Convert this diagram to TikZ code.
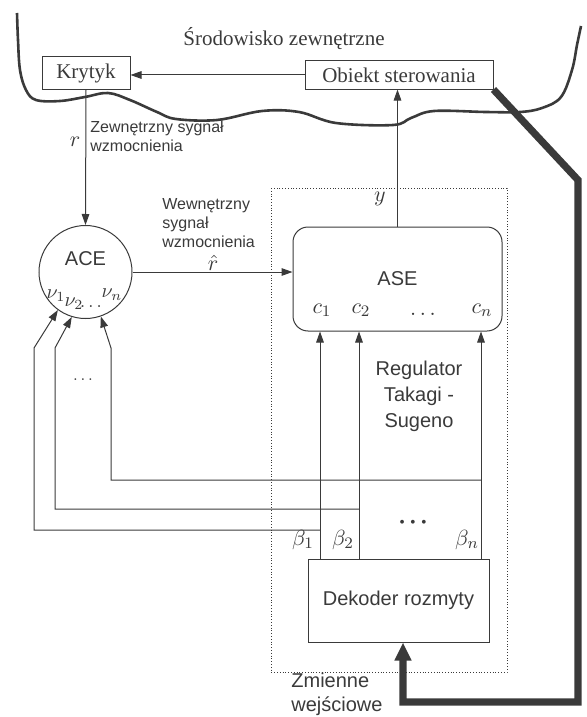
\documentclass[tikz,border=0pt]{standalone}
\usepackage{fontspec}
\setmainfont{Liberation Serif}
\setsansfont{Liberation Sans}
\usetikzlibrary{arrows.meta}
\definecolor{ink}{HTML}{3A3A3A}
\tikzset{
  blok/.style={draw=ink, line width=0.5pt, text=ink, font=\sffamily\fontsize{10}{12}\selectfont},
  arr/.style={draw=ink, line width=0.5pt, -{Triangle[length=5.5pt,width=3.8pt]}},
  fb/.style={draw=ink, line width=3.6pt, -{Triangle[length=9pt,width=8pt]}},
  lab/.style={text=ink, inner sep=0pt, align=left, font=\sffamily\fontsize{8}{9.5}\selectfont},
  sym/.style={text=ink, inner sep=0pt, font=\fontsize{11}{13}\selectfont},
}
\begin{document}
\begin{tikzpicture}[x=0.5pt,y=-0.5pt]
\useasboundingbox (0,0) rectangle (586,717);
% srodowisko
\draw[ink, line width=1.3pt] plot[smooth, tension=0.6] coordinates {(17,13) (18,40) (20,70) (26,90) (36,100) (60,101) (85,97) (108,93) (130,100) (157,112) (176,119) (217,120) (262,111) (299,112) (336,123) (393,125) (411,118) (434,111) (486,112) (520,112) (542,108) (561,97) (572,70) (577,45) (581,26)};
\node[text=ink, font=\fontsize{10.5}{12}\selectfont] (env) at (284,39) {Środowisko zewnętrzne};
\node[blok, font=\fontsize{10.5}{12}\selectfont, minimum width=44pt, minimum height=14pt] (krytyk) at (86,73) {Krytyk};
\node[blok, font=\fontsize{10.5}{12}\selectfont, minimum width=94pt, minimum height=13.5pt] (obiekt) at (399,75) {Obiekt sterowania};
% bloki
\node[draw=ink, line width=0.5pt, circle, minimum size=46.5pt, inner sep=0pt] (ace) at (85.5,272) {};
\node[blok, rounded corners=7.5pt, minimum width=104.5pt, minimum height=52pt] (ase) at (397.5,279) {ASE};
\node[blok, minimum width=90.5pt, minimum height=41.5pt] (dek) at (398.5,600.5) {Dekoder rozmyty};
\draw[ink, densely dotted, line width=0.4pt] (271,188) rectangle (507,672);
% polaczenia
\draw[arr] (obiekt.west) -- (krytyk.east |- obiekt.west);
\draw[arr] (krytyk.south) -- (ace.north);
\draw[arr] (ace.east) -- (ace.east -| ase.west);
\draw[arr] (ase.north) -- (ase.north |- obiekt.south);
\coordinate (b1) at (320,0);
\coordinate (b2) at (359,0);
\coordinate (bn) at (481,0);
\foreach \b in {b1,b2,bn}
  \draw[arr] (\b |- dek.north) -- (\b |- ase.south);
\coordinate (j1) at (320,530);
\coordinate (k1) at (34,348);
\coordinate (j2) at (359,509);
\coordinate (k2) at (55,348);
\coordinate (j3) at (481,480);
\coordinate (k3) at (111,348);
\draw[arr] (j1) -| (k1) -- (ace.-126);
\draw[arr] (j2) -| (k2) -- (ace.-107);
\draw[arr] (j3) -| (k3) -- (ace.-71);
\coordinate (t1) at (578,180);
\coordinate (t2) at (403,702);
\draw[fb] (obiekt.south east) -- (t1) |- (t2) -- (t2 |- dek.south);
% opisy
\node[lab, anchor=west] (zew) at (90,136) {Zewnętrzny sygnał\\wzmocnienia};
\node[sym] (rsym) at (75,142) {$r$};
\node[lab, anchor=west] (wew) at (162,223) {Wewnętrzny\\sygnał\\wzmocnienia};
\node[sym] (rhat) at (213,263) {$\hat{r}$};
\node[sym] (ysym) at (380,199) {$y$};
\node[text=ink, font=\sffamily\fontsize{10}{12}\selectfont] (acel) at (85.5,259) {ACE};
\node[sym, font=\fontsize{10}{12}\selectfont] (nu1) at (56,296) {$\nu_1$};
\node[sym, font=\fontsize{10}{12}\selectfont] (nu2) at (74,304) {$\nu_2$};
\node[sym, font=\fontsize{9}{11}\selectfont] (nud) at (91,307) {$\ldots$};
\node[sym, font=\fontsize{10}{12}\selectfont] (nun) at (112,295) {$\nu_n$};
\node[sym] (c1) at (322,310) {$c_1$};
\node[sym] (c2) at (361,310) {$c_2$};
\node[sym] (cd) at (423,314) {$\ldots$};
\node[sym] (cn) at (482,310) {$c_n$};
\node[sym, font=\fontsize{8}{9}\selectfont] (ldots) at (83,380) {$\ldots$};
\node[text=ink, align=center, font=\sffamily\fontsize{10}{13}\selectfont] (reg) at (419,396) {Regulator\\Takagi -\\Sugeno};
\node[text=ink, font=\fontsize{8}{9}\selectfont] (bdots) at (413,524) {•\,\,•\,\,•};
\node[sym] (beta1) at (303,540) {$\beta_1$};
\node[sym] (beta2) at (343,540) {$\beta_2$};
\node[sym] (betan) at (467,540) {$\beta_n$};
\node[text=ink, anchor=west, align=left, inner sep=0pt, font=\sffamily\fontsize{10}{12}\selectfont] (zmienne) at (291,694) {Zmienne\\wejściowe};
\end{tikzpicture}
\end{document}
